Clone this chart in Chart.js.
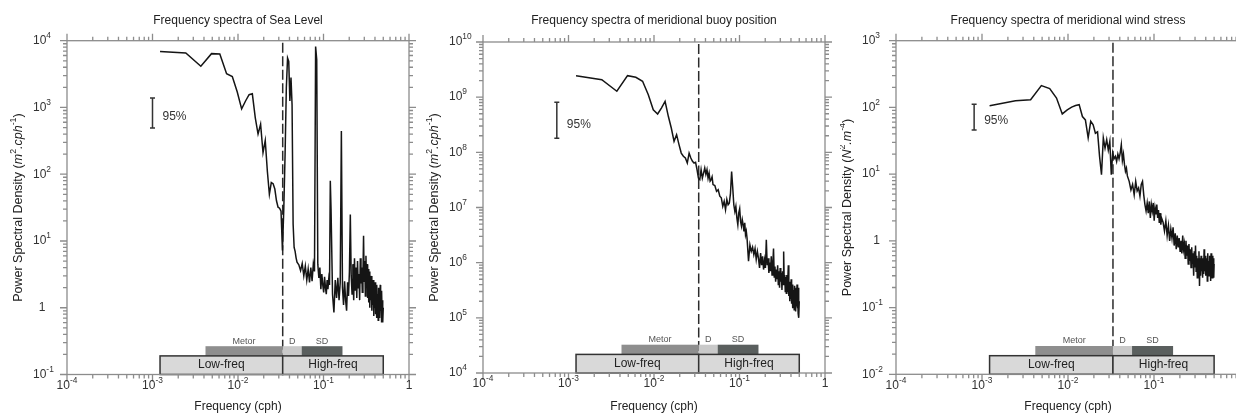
<!DOCTYPE html>
<html>
<head>
<meta charset="utf-8">
<script src="https://cdn.jsdelivr.net/npm/chart.js@4.4.0/dist/chart.umd.min.js"></script>
<style>
  html, body { margin: 0; padding: 0; background: #fff; width: 1236px; height: 416px; overflow: hidden; }
  canvas { position: absolute; top: 0; }
</style>
</head>
<body>
<canvas id="c1" width="420" height="416" style="left:0px"></canvas>
<canvas id="c2" width="420" height="416" style="left:420px"></canvas>
<canvas id="c3" width="410" height="416" style="left:840px"></canvas>
<script>
// frequencies of the spectral estimates (cph), shared by the three spectra
const freq = [
  0.001225, 0.002451, 0.003676, 0.004902, 0.006127, 0.007353, 0.008578, 0.009804, 0.01103, 0.01225,
  0.01348, 0.01471, 0.01593, 0.01716, 0.01838, 0.01961, 0.02083, 0.02206, 0.02328, 0.02451,
  0.02574, 0.02696, 0.02819, 0.02941, 0.03064, 0.03186, 0.03309, 0.03431, 0.03554, 0.03676,
  0.03799, 0.03922, 0.04044, 0.04167, 0.04289, 0.04412, 0.04534, 0.04657, 0.04779, 0.04902,
  0.05147, 0.05392, 0.05637, 0.05882, 0.06127, 0.06373, 0.06618, 0.06863, 0.07108, 0.07353,
  0.07598, 0.07843, 0.08088, 0.08333, 0.08578, 0.08824, 0.09069, 0.09314, 0.09559, 0.09804,
  0.1005, 0.1029, 0.1054, 0.1078, 0.1103, 0.1127, 0.1152, 0.1176, 0.1201, 0.1225,
  0.1275, 0.1324, 0.1373, 0.1422, 0.1471, 0.1520, 0.1569, 0.1618, 0.1667, 0.1716,
  0.1765, 0.1814, 0.1863, 0.1912, 0.1961, 0.2010, 0.2059, 0.2108, 0.2157, 0.2206,
  0.2255, 0.2304, 0.2353, 0.2402, 0.2451, 0.2500, 0.2549, 0.2598, 0.2647, 0.2696,
  0.2745, 0.2794, 0.2843, 0.2892, 0.2941, 0.2990, 0.3039, 0.3088, 0.3137, 0.3186,
  0.3235, 0.3284, 0.3333, 0.3382, 0.3431, 0.3480, 0.3529, 0.3578, 0.3627, 0.3676,
  0.3725, 0.3775, 0.3824, 0.3873, 0.3922, 0.3971, 0.4020, 0.4069, 0.4118, 0.4167,
  0.4216, 0.4265, 0.4314, 0.4363, 0.4412, 0.4461, 0.4510, 0.4559, 0.4608, 0.4657,
  0.4706, 0.4755, 0.4804, 0.4853, 0.4902, 0.4951, 0.5000
];

// sea level PSD (m2.cph-1)
const seaLevel = [
  6900, 6550, 4150, 6400, 6300, 3200, 2900, 1700, 950, 1250,
  1550, 1600, 700, 400, 560, 210, 320, 110, 50, 75,
  72, 60, 40, 32, 31, 28, 7.2, 30, 200, 1970,
  5500, 4900, 1250, 2800, 1100, 18, 8, 7, 5.6, 4.8,
  4.4, 3.6, 4.6, 3.0, 4.2, 2.6, 3.8, 2.4, 4.0, 2.5,
  4.5, 3.5, 8200, 5200, 4.5, 2.8, 4.0, 1.9, 3.2, 2.2,
  1.7, 2.9, 2.0, 1.6, 2.6, 1.9, 2.7, 2.2, 80, 30,
  1.6, 0.85, 2.6, 1.4, 2.8, 1.3, 2.4, 445, 2.0, 1.1,
  2.5, 1.3, 0.9, 2.4, 1.5, 3.5, 25, 3.0, 1.6, 4.5,
  1.3, 5.5, 1.8, 4.0, 1.4, 5.0, 2.0, 3.2, 1.3, 5.5,
  2.3, 4.0, 1.7, 3.0, 12, 2.5, 5.0, 1.5, 6.0, 2.0,
  4.5, 1.4, 3.8, 1.2, 3.5, 1.0, 2.8, 1.3, 3.0, 0.9,
  2.2, 1.1, 2.6, 0.75, 2.0, 1.0, 2.4, 0.8, 1.8, 0.7,
  2.2, 1.1, 1.6, 0.65, 2.0, 0.8, 1.7, 0.7, 2.2, 0.9,
  1.5, 0.6, 1.8, 0.75, 1.3, 0.6, 1.0
];

// meridional buoy position PSD (m2.cph-1)
const buoyPosition = [
  2.45e9, 2.07e9, 1.28e9, 2.45e9, 2.29e9, 1.94e9, 1.11e9, 5.9e8, 4.95e8, 6.4e8,
  8.4e8, 4.5e8, 2.76e8, 1.58e8, 2.09e8, 1.38e8, 9.7e7, 8.5e7, 7.9e7, 6.4e7,
  9.7e7, 7.9e7, 6.9e7, 6.4e7, 6.6e7, 4.85e7, 3.4e7, 3.2e7, 4.85e7, 3.4e7,
  4.2e7, 5.2e7, 4.0e7, 4.85e7, 3.4e7, 4.2e7, 3.0e7, 3.2e7, 3.6e7, 2.6e7,
  2.5e7, 1.96e7, 2.1e7, 1.6e7, 1.5e7, 1.05e7, 1.3e7, 9.1e6, 1.4e7, 1.12e7,
  1.2e7, 1.8e7, 4.5e7, 2.3e7, 1.12e7, 8.5e6, 1.05e7, 6.5e6, 4.9e6, 8.0e6,
  9.5e6, 5.6e6, 4.6e6, 6.0e6, 4.9e6, 3.7e6, 5.3e6, 3.2e6, 3.7e6, 2.8e6,
  1.06e6, 2.1e6, 1.6e6, 1.9e6, 1.4e6, 1.8e6, 1.15e6, 1.6e6, 1.2e6, 8.0e5,
  1.5e6, 9.0e5, 1.3e6, 7.5e5, 1.1e6, 8.0e5, 2.6e6, 9.0e5, 1.2e6, 6.5e5,
  1.0e6, 7.0e5, 1.3e6, 6.0e5, 9.0e5, 1.8e6, 5.5e5, 8.5e5, 4.5e5, 7.5e5,
  5.0e5, 9.0e5, 4.0e5, 7.0e5, 3.5e5, 8.0e5, 4.5e5, 6.5e5, 3.2e5, 7.0e5,
  4.0e5, 1.6e6, 4.5e5, 6.0e5, 3.0e5, 5.5e5, 2.8e5, 6.0e5, 3.0e5, 5.0e5,
  9.0e5, 2.5e5, 4.5e5, 2.0e5, 4.0e5, 2.2e5, 5.0e5, 1.8e5, 3.5e5, 1.5e5,
  4.0e5, 2.0e5, 3.2e5, 1.4e5, 3.8e5, 1.8e5, 3.0e5, 1.3e5, 3.5e5, 1.6e5,
  4.0e5, 1.5e5, 2.8e5, 1.2e5, 3.5e5, 1.0e5, 2.0e5
];

// meridional wind stress PSD (N2.m-4)
const windStress = [
  106, 126, 130, 212, 191, 138, 80, 92, 101, 107,
  110, 73, 65, 35, 62, 55, 41, 43, 18.5, 9.8,
  35, 24.6, 33, 23, 31, 9.8, 20.7, 17, 18.5, 15.5,
  20, 17, 20.7, 27.6, 16, 20, 14, 11, 12.3, 9.4,
  7.8, 5.8, 7.0, 4.9, 7.8, 5.6, 6.2, 4.7, 7.0, 7.8,
  4.9, 3.5, 2.8, 3.7, 2.6, 3.9, 2.2, 3.5, 2.8, 3.7,
  2.0, 3.1, 2.5, 3.5, 2.2, 2.9, 1.85, 2.6, 1.75, 2.2,
  1.9, 1.4, 2.0, 1.2, 1.7, 1.0, 1.5, 1.1, 1.6, 0.85,
  1.3, 0.75, 1.2, 0.8, 1.1, 0.7, 1.0, 0.65, 1.2, 0.75,
  0.9, 0.55, 1.0, 0.6, 0.85, 0.45, 0.9, 0.5, 0.75, 0.4,
  0.8, 0.45, 0.65, 0.3, 0.7, 0.4, 0.85, 0.35, 0.6, 0.28,
  0.55, 0.35, 0.7, 0.21, 0.55, 0.3, 0.6, 0.35, 0.5, 0.28,
  0.55, 0.32, 0.75, 0.35, 0.5, 0.3, 0.6, 0.33, 0.55, 0.25,
  0.65, 0.35, 0.5, 0.3, 0.6, 0.32, 0.55, 0.25, 0.65, 0.35,
  0.5, 0.28, 0.6, 0.3, 0.55, 0.28, 0.45
];

const titles = ['Frequency spectra of Sea Level', 'Frequency spectra of meridional buoy position', 'Frequency spectra of meridional wind stress'];
const yMin = [1e-1, 1e4, 1e-2];
const yMax = [1e4, 1e10, 1e3];

// low / high frequency split (30 h)
const cutoffFreq = 0.03333;
const boxNames = ['Low-freq', 'High-freq'];
const boxFrom = [0.001225, 0.03333];
const boxTo = [0.03333, 0.5];
const bandNames = ['Metor', 'D', 'SD'];
const bandFrom = [0.004167, 0.03333, 0.05556];
const bandTo = [0.03333, 0.05556, 0.1667];

// 95% confidence interval bars
const ciFreq = [0.001, 0.00073, 0.00081];
const ciLow = [493, 1.8e8, 45.8];
const ciHigh = [1380, 8.1e8, 112];

const FONT = '"Liberation Sans", Arial, Helvetica, sans-serif';
const bandColors = ['#8e8e8e', '#c9c9c9', '#5a5f5e'];

const panels = [
  { id: 'c1', values: seaLevel, pad: { left: 67, right: 11, top: 40.7, bottom: 41.5 }, oneAlign: 'center',
    unit: [['Power Spectral Density (', 'n'], ['m', 'i'], ['2', 's'], ['.cph', 'i'], ['-1', 's'], [')', 'n']] },
  { id: 'c2', values: buoyPosition, pad: { left: 63, right: 15, top: 42, bottom: 43 }, oneAlign: 'center',
    unit: [['Power Spectral Density (', 'n'], ['m', 'i'], ['2', 's'], ['.cph', 'i'], ['-1', 's'], [')', 'n']] },
  { id: 'c3', values: windStress, pad: { left: 56, right: 10, top: 40.7, bottom: 41.7 }, oneAlign: 'right',
    unit: [['Power Spectral Density (', 'n'], ['N', 'i'], ['2', 's'], ['.m', 'i'], ['-4', 's'], [')', 'n']] }
];

function fontOf(kind, size) {
  if (kind === 's') return ((size || 12) * 0.7).toFixed(1) + 'px ' + FONT;
  return (kind === 'i' ? 'italic ' : '') + (size || 12) + 'px ' + FONT;
}

function richWidth(ctx, parts, size) {
  let w = 0;
  for (const [t, k] of parts) { ctx.font = fontOf(k, size); w += ctx.measureText(t).width; }
  return w;
}

function drawRich(ctx, parts, x, y, align, size) {
  const w = richWidth(ctx, parts, size);
  let cx = align === 'center' ? x - w / 2 : align === 'right' ? x - w : x;
  ctx.textAlign = 'left';
  ctx.textBaseline = 'middle';
  for (const [t, k] of parts) {
    ctx.font = fontOf(k, size);
    ctx.fillText(t, cx, k === 's' ? y - 5 : y);
    cx += ctx.measureText(t).width;
  }
}

function powLabel(e) {
  return e === 0 ? [['1', 'n']] : [['10', 'n'], [String(e), 's']];
}

const decorations = {
  id: 'decorations',
  beforeDatasetsDraw(chart) {
    const { ctx, chartArea: a, scales: { x } } = chart;
    const xc = x.getPixelForValue(cutoffFreq);
    ctx.save();
    ctx.strokeStyle = '#2b2b2b';
    ctx.lineWidth = 1.5;
    ctx.setLineDash([10, 3.5]);
    ctx.beginPath();
    ctx.moveTo(xc, a.top + 2);
    ctx.lineTo(xc, a.bottom);
    ctx.stroke();
    ctx.restore();
  },
  afterDatasetsDraw(chart) {
    const { ctx, chartArea: a, scales: { x, y } } = chart;
    const p = chart.options.plugins.decorations;
    ctx.save();

    // band bars and boxes
    const boxTop = a.bottom - 18.6, barTop = a.bottom - 28.3;
    bandNames.forEach((name, i) => {
      const x0 = x.getPixelForValue(bandFrom[i]), x1 = x.getPixelForValue(bandTo[i]);
      ctx.fillStyle = bandColors[i];
      ctx.fillRect(x0, barTop, x1 - x0, boxTop - barTop);
      ctx.fillStyle = '#555';
      ctx.font = '9px ' + FONT;
      ctx.textAlign = 'center';
      ctx.textBaseline = 'alphabetic';
      ctx.fillText(name, (x0 + x1) / 2, a.bottom - 31);
    });
    boxNames.forEach((name, i) => {
      const x0 = x.getPixelForValue(boxFrom[i]), x1 = x.getPixelForValue(boxTo[i]);
      ctx.fillStyle = '#d9d9d9';
      ctx.fillRect(x0, boxTop, x1 - x0, a.bottom - boxTop);
      ctx.strokeStyle = '#333';
      ctx.lineWidth = 1.5;
      ctx.strokeRect(x0, boxTop, x1 - x0, a.bottom - boxTop);
      ctx.fillStyle = '#222';
      ctx.font = '12px ' + FONT;
      ctx.textAlign = 'center';
      ctx.textBaseline = 'alphabetic';
      ctx.fillText(name, (x0 + x1) / 2, a.bottom - 6.5);
    });

    // 95% confidence bar
    const cx = x.getPixelForValue(ciFreq[p.index]);
    const y0 = y.getPixelForValue(ciLow[p.index]), y1 = y.getPixelForValue(ciHigh[p.index]);
    ctx.strokeStyle = '#333';
    ctx.lineWidth = 1.5;
    ctx.beginPath();
    ctx.moveTo(cx, y0); ctx.lineTo(cx, y1);
    ctx.moveTo(cx - 2.5, y0); ctx.lineTo(cx + 2.5, y0);
    ctx.moveTo(cx - 2.5, y1); ctx.lineTo(cx + 2.5, y1);
    ctx.stroke();
    ctx.fillStyle = '#333';
    ctx.font = '12px ' + FONT;
    ctx.textAlign = 'left';
    ctx.textBaseline = 'middle';
    ctx.fillText('95%', cx + 10, (y0 + y1) / 2 + 4);

    // frame
    ctx.strokeStyle = '#8c8c8c';
    ctx.lineWidth = 1.3;
    ctx.strokeRect(a.left, a.top, a.right - a.left, a.bottom - a.top);

    // ticks on the four sides
    ctx.beginPath();
    const xmin = Math.round(Math.log10(x.min)), xmax = Math.round(Math.log10(x.max));
    for (let e = xmin; e <= xmax; e++) {
      for (let m = 1; m <= 9; m++) {
        const v = m * Math.pow(10, e);
        if (v > x.max * 1.0001) break;
        const px = x.getPixelForValue(v), len = m === 1 ? 7 : 4;
        ctx.moveTo(px, a.bottom); ctx.lineTo(px, a.bottom + len);
        ctx.moveTo(px, a.top); ctx.lineTo(px, a.top - len);
      }
    }
    const ymin = Math.round(Math.log10(y.min)), ymax = Math.round(Math.log10(y.max));
    for (let e = ymin; e <= ymax; e++) {
      for (let m = 1; m <= 9; m++) {
        const v = m * Math.pow(10, e);
        if (v > y.max * 1.0001) break;
        const py = y.getPixelForValue(v), len = m === 1 ? 7 : 4;
        ctx.moveTo(a.left, py); ctx.lineTo(a.left - len, py);
        ctx.moveTo(a.right, py); ctx.lineTo(a.right + len, py);
      }
    }
    ctx.stroke();

    // tick labels
    ctx.fillStyle = '#333';
    for (let e = xmin; e <= xmax; e++) {
      drawRich(ctx, powLabel(e), x.getPixelForValue(Math.pow(10, e)), a.bottom + 11, 'center');
    }
    const ref = richWidth(ctx, powLabel(1));
    for (let e = ymin; e <= ymax; e++) {
      const py = y.getPixelForValue(Math.pow(10, e));
      const lx = a.left - 34;
      if (e === 0) {
        if (p.oneAlign === 'center') drawRich(ctx, powLabel(0), lx + ref / 2, py, 'center');
        else drawRich(ctx, powLabel(0), lx + ref, py, 'right');
      } else {
        drawRich(ctx, powLabel(e), lx, py, 'left');
      }
    }

    // titles
    ctx.fillStyle = '#222';
    ctx.font = '12px ' + FONT;
    ctx.textAlign = 'center';
    ctx.textBaseline = 'alphabetic';
    ctx.fillText(titles[p.index], (a.left + a.right) / 2, 24);
    ctx.fillText('Frequency (cph)', (a.left + a.right) / 2, 410);
    ctx.translate(a.left - 48, (a.top + a.bottom) / 2);
    ctx.rotate(-Math.PI / 2);
    drawRich(ctx, p.unit, 0, 0, 'center', 12.5);
    ctx.restore();
  }
};

panels.forEach((p, i) => {
  new Chart(document.getElementById(p.id), {
    type: 'scatter',
    data: {
      datasets: [{
        data: freq.map((f, k) => ({ x: f, y: p.values[k] })),
        showLine: true,
        borderColor: '#151515',
        borderWidth: 1.5,
        pointRadius: 0,
        tension: 0
      }]
    },
    options: {
      responsive: false,
      animation: false,
      events: [],
      layout: { padding: p.pad },
      plugins: {
        legend: { display: false },
        tooltip: { enabled: false },
        decorations: { index: i, unit: p.unit, oneAlign: p.oneAlign }
      },
      scales: {
        x: { type: 'logarithmic', min: 1e-4, max: 1, display: false },
        y: { type: 'logarithmic', min: yMin[i], max: yMax[i], display: false }
      }
    },
    plugins: [decorations]
  });
});
</script>
</body>
</html>
